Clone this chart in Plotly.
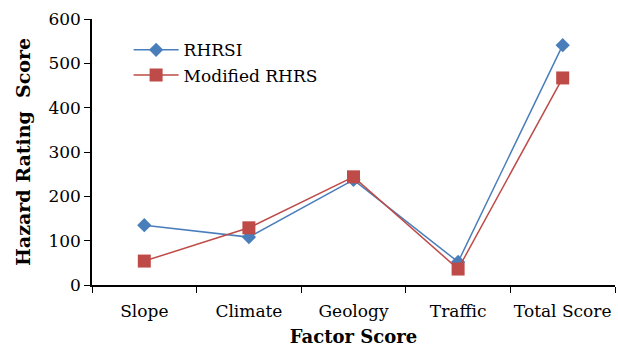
import plotly.graph_objects as go

factors = ["Slope", "Climate", "Geology", "Traffic", "Total Score"]
rhrsi = [135, 108, 237, 52, 541]
modified_rhrs = [54, 129, 244, 36, 467]
y_ticks = [0, 100, 200, 300, 400, 500, 600]

serif = "DejaVu Serif, Liberation Serif, serif"

fig = go.Figure()
fig.add_trace(go.Scatter(
    x=factors, y=rhrsi, name="RHRSI", mode="lines+markers",
    line=dict(color="#4a7ebb", width=1.5),
    marker=dict(symbol="diamond", size=11, color="#4a7ebb"),
))
fig.add_trace(go.Scatter(
    x=factors, y=modified_rhrs, name="Modified RHRS", mode="lines+markers",
    line=dict(color="#be4b48", width=1.5),
    marker=dict(symbol="square", size=13, color="#be4b48"),
))

fig.update_layout(
    width=618, height=348,
    margin=dict(l=92, r=3, t=19, b=63, autoexpand=False),
    paper_bgcolor="white", plot_bgcolor="white",
    font=dict(family=serif, size=17, color="black"),
    showlegend=True,
    legend=dict(x=0.07, y=0.95, xanchor="left", yanchor="top",
                bgcolor="rgba(0,0,0,0)", font=dict(size=17),
                itemwidth=45, tracegroupgap=0),
    xaxis=dict(
        type="category", range=[-0.5, 4.5], automargin=False,
        showline=True, linecolor="black", linewidth=1.5,
        ticks="outside", tickson="boundaries", ticklen=6, tickangle=0,
        tickcolor="black", showgrid=False, ticklabelstandoff=10,
        title=dict(text="<b>Factor Score</b>", font=dict(size=18), standoff=10),
    ),
    yaxis=dict(
        range=[0, 600], tickvals=y_ticks, automargin=False,
        showline=True, linecolor="black", linewidth=1.5,
        ticks="outside", ticklen=6, tickcolor="black",
        showgrid=False, zeroline=False,
        title=dict(text="<b>Hazard Rating  Score</b>", font=dict(size=19), standoff=13),
    ),
)

fig.write_html("out.html")
